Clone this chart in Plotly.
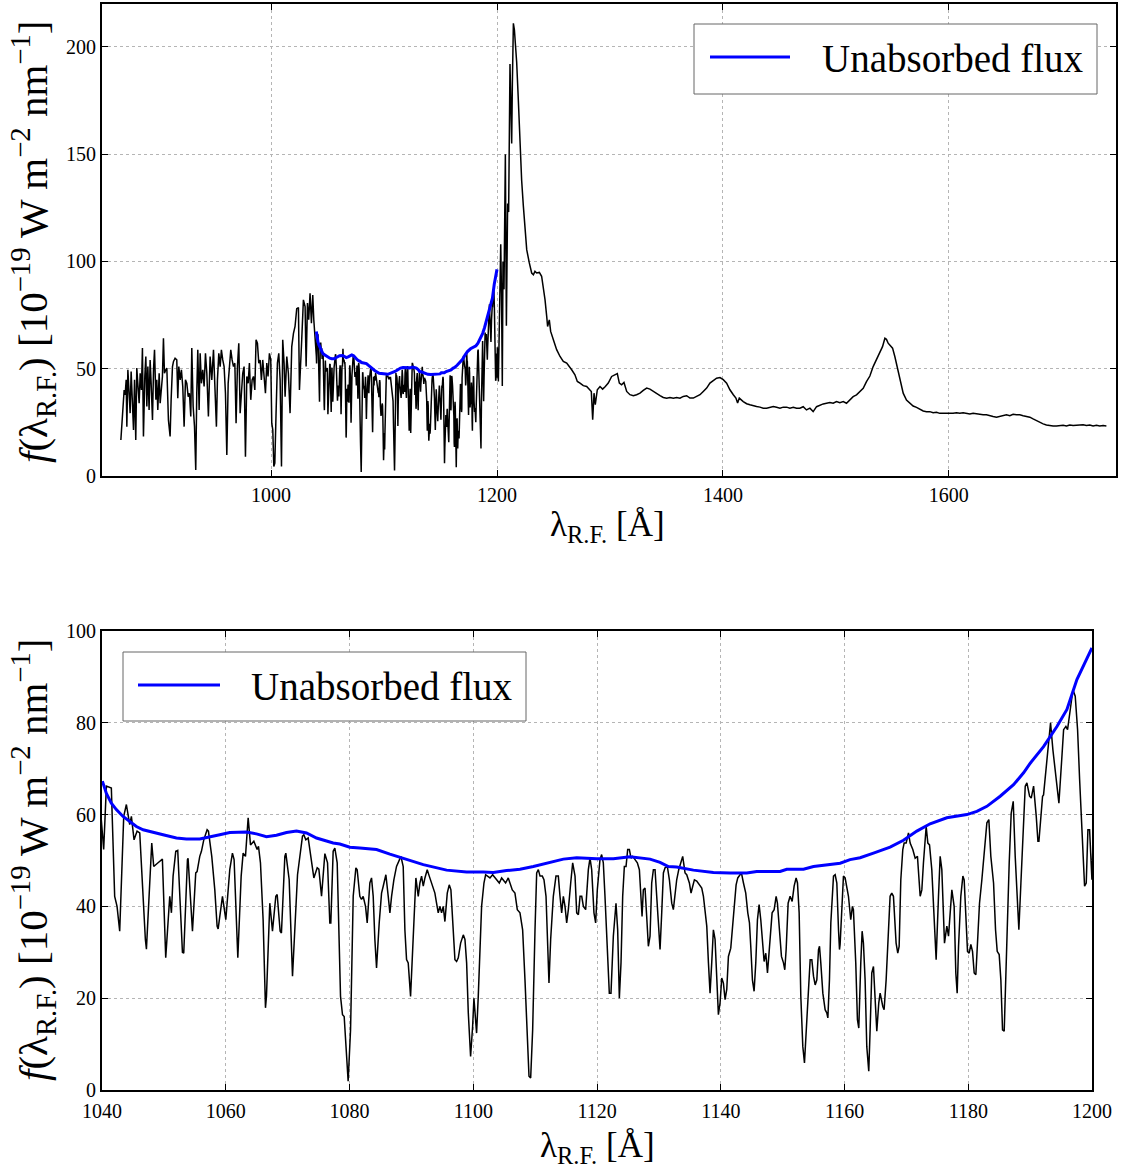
import plotly.graph_objects as go

# ---------------- data ----------------
# Lyman-alpha forest region (blue of 1040 A)
wave_forest = [867.0, 867.8, 868.7, 869.9, 870.8, 871.7, 872.3, 873.2, 874.0, 875.2, 876.1, 877.0, 878.2, 879.1,
               880.2, 881.1, 882.0, 883.2, 884.1, 885.2, 886.1, 887.0, 888.2, 889.1, 890.0, 890.9, 892.0, 892.9,
               893.8, 895.0, 895.9, 896.8, 898.0, 898.8, 899.7, 900.9, 901.8, 903.0, 903.8, 904.7, 905.6, 906.8,
               907.7, 909.1, 910.6, 911.5, 912.7, 913.6, 915.0, 916.5, 917.4, 918.3, 919.5, 920.6, 921.8, 923.0,
               924.2, 925.4, 926.6, 927.7, 928.9, 929.8, 931.0, 932.2, 933.3, 934.2, 935.1, 936.3, 937.2, 938.3,
               939.5, 940.7, 941.9, 943.1, 944.5, 946.0, 947.5, 949.0, 950.4, 951.6, 952.5, 953.7, 954.9, 956.0,
               957.2, 958.4, 959.6, 960.8, 962.0, 963.1, 964.3, 965.5, 966.7, 967.9, 969.0, 970.2, 971.4, 972.6,
               973.8, 974.9, 976.1, 977.3, 978.5, 979.7, 980.8, 982.0, 983.2, 984.4, 985.6, 986.7, 987.9, 989.1,
               990.3, 991.4, 992.6, 993.8, 995.0, 996.2, 997.3, 998.5, 999.7, 1000.6, 1001.5, 1002.4, 1003.3,
               1004.4, 1005.6, 1006.8, 1008.0, 1009.2, 1010.3, 1011.5, 1012.4, 1013.9, 1015.3, 1016.8, 1018.3,
               1019.8, 1021.2, 1022.7, 1024.2, 1025.1, 1026.3, 1027.1, 1028.6, 1030.1, 1031.0, 1032.2, 1033.3,
               1034.5, 1035.7, 1036.9, 1037.8, 1038.6, 1039.8]
flux_forest = [16.8, 24.6, 29.3, 40.1, 37.8, 44.8, 23.0, 49.5, 41.7, 29.3, 48.7, 35.5, 21.5, 44.8,
               16.8, 50.3, 40.1, 33.9, 47.9, 40.1, 59.6, 18.4, 46.4, 55.7, 32.4, 51.0, 30.8, 54.1,
               43.2, 26.1, 49.5, 58.8, 35.5, 44.8, 30.8, 47.9, 33.9, 40.1, 46.4, 64.2, 47.9, 49.5,
               50.3, 26.1, 18.4, 35.5, 51.0, 53.4, 54.9, 54.1, 36.3, 51.0, 44.8, 49.5, 41.7, 23.0,
               44.8, 43.2, 37.0, 38.6, 27.7, 59.6, 32.4, 23.0, 2.8, 38.6, 58.8, 30.8, 57.2, 43.2,
               49.5, 41.7, 57.2, 47.9, 27.7, 55.7, 44.8, 58.8, 40.1, 23.0, 44.8, 57.2, 51.0, 58.8,
               54.1, 51.0, 38.6, 9.8, 43.2, 52.6, 58.8, 54.1, 51.0, 52.6, 24.6, 51.0, 61.9, 29.3,
               40.1, 47.9, 51.0, 9.0, 46.4, 43.2, 52.6, 35.5, 44.8, 46.4, 40.1, 63.5, 61.9, 52.6,
               54.1, 44.8, 54.1, 47.9, 38.6, 52.6, 46.4, 57.2, 54.1, 24.6, 21.5, 4.4, 6.0,
               29.3, 52.6, 57.2, 44.8, 4.4, 63.5, 52.6, 37.0, 55.7, 47.9, 29.3, 60.3,
               66.5, 69.7, 78.0, 78.5, 40.1, 51.0, 63.4, 82.1, 79.0, 51.0, 80.6, 72.8,
               85.2, 71.2, 84.4, 72.8, 68.1, 60.3]

# 1040 - 1200 A, read from the lower (zoomed) panel
wave_zoom = [1040.06, 1040.27, 1040.71, 1041.51, 1042.05, 1042.43, 1042.86, 1043.51, 1043.94, 1044.48, 1044.75,
             1045.18, 1045.67, 1046.10, 1047.01, 1047.18, 1048.04, 1048.36, 1049.06, 1049.76, 1050.30, 1050.95,
             1051.22, 1051.49, 1051.92, 1052.24, 1053.00, 1053.21, 1053.81, 1053.91, 1054.62, 1055.15, 1055.37,
             1055.80, 1056.07, 1056.45, 1056.99, 1057.20, 1057.74, 1058.23, 1058.60, 1058.77, 1059.47, 1060.01,
             1060.65, 1061.08, 1061.35, 1061.95, 1062.49, 1062.81, 1063.19, 1063.62, 1064.00, 1064.54, 1065.07,
             1065.29, 1065.61, 1066.04, 1066.42, 1066.58, 1067.12, 1067.55, 1068.09, 1068.31, 1068.79, 1069.00,
             1069.55, 1069.71, 1070.25, 1070.79, 1071.60, 1071.97, 1072.40, 1072.62, 1072.94, 1073.32, 1073.86,
             1074.24, 1074.78, 1075.05, 1075.48, 1076.02, 1076.45, 1076.82, 1076.98, 1077.36, 1077.63, 1078.01,
             1078.55, 1078.87, 1079.14, 1079.78,
             1080.17, 1080.60, 1081.03, 1081.24, 1081.67, 1081.94, 1082.21, 1082.59, 1082.86, 1083.29, 1083.56,
             1083.83, 1084.10, 1084.37, 1084.80, 1085.18, 1085.45, 1085.88, 1086.26, 1086.53, 1086.80, 1087.17,
             1087.60, 1088.04, 1088.31, 1088.68, 1088.95, 1089.22, 1089.49, 1089.87, 1090.19, 1090.41, 1090.73,
             1091.11, 1091.38, 1091.65, 1091.92, 1092.19, 1092.56, 1092.89, 1093.27, 1093.80, 1094.07, 1094.34,
             1094.61, 1094.88, 1095.15, 1095.42, 1095.80, 1096.12, 1096.39, 1096.77, 1097.04, 1097.31, 1097.58,
             1097.96, 1098.39, 1098.66, 1098.93, 1099.20, 1099.57, 1099.90, 1100.11, 1100.54, 1100.81, 1101.35,
             1101.73, 1102.00, 1102.27, 1102.70, 1103.13, 1103.51, 1103.88, 1104.21, 1104.59, 1104.86, 1105.23,
             1105.66, 1106.04, 1106.31, 1106.74, 1107.12, 1107.55, 1107.98, 1108.36, 1108.74, 1109.01, 1109.28,
             1109.60, 1109.98, 1110.25, 1110.52, 1110.79, 1111.16, 1111.43, 1111.76, 1111.97, 1112.24, 1112.51,
             1112.94, 1113.37, 1113.75, 1114.02, 1114.29, 1114.56, 1114.83, 1115.10, 1115.37, 1115.75, 1116.07,
             1116.45, 1116.72, 1116.99, 1117.26, 1117.53, 1117.80, 1118.17, 1118.60, 1118.87,
             1119.14, 1119.51, 1119.78, 1120.05, 1120.48, 1120.75, 1121.02, 1121.29, 1121.67, 1121.99, 1122.26,
             1122.64, 1123.07, 1123.34, 1123.61, 1123.88, 1124.15, 1124.42, 1124.69, 1124.96, 1125.23, 1125.50,
             1125.77, 1126.15, 1126.52, 1126.85, 1127.12, 1127.28, 1127.49, 1127.76, 1128.03, 1128.30, 1128.57,
             1128.84, 1129.11, 1129.38, 1129.65, 1129.92, 1130.19, 1130.46, 1130.73, 1131.00, 1131.37, 1131.70,
             1132.08, 1132.34, 1132.61, 1132.88, 1133.21, 1133.53, 1133.85, 1134.23, 1134.50, 1134.93, 1135.20,
             1135.47, 1135.74, 1136.12, 1136.55, 1136.93, 1137.20, 1137.47, 1137.74, 1138.01, 1138.27, 1138.54,
             1138.81, 1139.08, 1139.35, 1139.62, 1139.89, 1140.16, 1140.43, 1140.70, 1140.97, 1141.24, 1141.62,
             1141.89, 1142.16, 1142.48, 1142.75, 1143.02, 1143.34, 1143.67, 1144.04, 1144.37, 1144.64, 1144.85,
             1145.12, 1145.39, 1145.66, 1145.93, 1146.20, 1146.47, 1146.74, 1147.01, 1147.28, 1147.55, 1147.76,
             1148.09, 1148.30, 1148.63, 1148.95, 1149.16, 1149.49, 1149.81, 1150.14, 1150.35, 1150.57, 1150.89,
             1151.21, 1151.54, 1151.86, 1152.18, 1152.40, 1152.67, 1152.94, 1153.26, 1153.53, 1153.80, 1154.18,
             1154.45, 1154.72, 1154.99, 1155.26, 1155.53, 1155.80, 1155.96, 1156.17, 1156.50, 1156.87, 1157.14,
             1157.31, 1157.57, 1157.79, 1158.01, 1158.22, 1158.49, 1158.76, 1159.03, 1159.19,
             1159.29, 1159.83, 1160.10, 1160.64, 1161.01, 1161.28, 1161.44, 1161.82, 1162.09, 1162.31, 1162.63,
             1162.85, 1163.06, 1163.33, 1163.60, 1163.92, 1164.14, 1164.41, 1164.68, 1164.95, 1165.22, 1165.54,
             1165.76, 1166.19, 1166.40, 1166.73, 1167.00, 1167.37, 1167.64, 1167.91, 1168.34, 1168.61, 1168.83,
             1169.10, 1169.42, 1169.64, 1169.96, 1170.34, 1170.61, 1171.04, 1171.42, 1171.79, 1172.23, 1172.50,
             1172.76, 1173.03, 1173.20, 1173.47, 1173.74, 1174.11, 1174.38, 1174.65, 1174.81, 1175.19, 1175.46,
             1175.73, 1176.00, 1176.16, 1176.54, 1176.81, 1177.08, 1177.35, 1177.72, 1177.99, 1178.21, 1178.43,
             1178.80, 1179.13, 1179.34, 1179.67, 1179.88, 1180.15, 1180.42, 1180.69, 1180.96, 1181.23, 1181.50,
             1181.82, 1182.20, 1182.63, 1183.01, 1183.33, 1183.65, 1184.09, 1184.41, 1184.68, 1185.00, 1185.27,
             1185.54, 1185.81, 1186.24, 1186.62, 1186.94, 1187.27, 1187.59, 1187.97, 1188.18, 1188.51, 1188.94,
             1189.21, 1189.48, 1189.91, 1190.18, 1190.56, 1190.99, 1191.26, 1191.42, 1191.74, 1192.01, 1192.17,
             1192.71, 1193.09, 1193.30, 1193.68, 1194.11, 1194.65, 1195.14, 1195.41, 1195.78, 1196.05, 1196.49,
             1196.92, 1197.29, 1197.67, 1198.00, 1198.37, 1198.80, 1199.07, 1199.34, 1199.61, 1199.99]
flux_zoom = [56.0, 52.4, 66.2, 65.8, 42.2, 40.0, 34.6, 59.6, 62.2, 57.8, 59.6,
             54.5, 56.4, 56.0, 32.8, 30.7, 53.8, 48.7, 49.5, 50.3, 28.8, 42.2,
             38.6, 46.6, 52.0, 52.2, 30.0, 29.8, 50.2, 50.5, 34.6, 47.3, 47.6,
             50.9, 52.0, 54.5, 56.7, 56.4, 50.9, 43.6, 35.7, 35.1, 42.2, 37.1,
             48.0, 51.6, 50.2, 28.8, 46.6, 51.6, 50.9, 59.3, 53.4, 54.2, 52.4,
             53.1, 49.5, 37.1, 17.9, 20.4, 40.7, 34.6, 42.2, 42.6, 34.6, 34.2,
             50.9, 51.6, 45.8, 24.8, 46.9, 50.9, 55.3, 55.6, 54.5, 54.9, 50.2,
             46.2, 48.4, 48.1, 42.2, 51.5, 49.5, 36.4, 36.4, 52.0, 52.7, 49.5,
             20.4, 16.4, 16.0, 1.9,
             13.1, 42.2, 48.4, 48.0, 42.2, 41.5, 42.2, 40.0, 36.4, 45.1, 46.2,
             42.2, 32.8, 26.6, 36.4, 42.9, 44.4, 46.9, 42.2, 38.6, 42.2, 45.8,
             48.7, 50.2, 50.9, 48.7, 34.9, 28.4, 27.7, 20.4, 30.6, 39.3, 46.2,
             42.2, 45.1, 46.6, 44.4, 46.2, 48.0, 46.6, 45.1, 42.9, 40.7, 38.6,
             40.0, 38.6, 40.0, 36.7, 42.9, 44.7, 43.6, 32.8, 28.4, 28.0, 28.8,
             32.0, 33.8, 32.8, 27.7, 16.8, 7.3, 13.9, 20.0, 12.4, 20.4, 40.0,
             45.1, 46.9, 46.6, 46.2, 46.9, 46.2, 45.5, 45.1, 46.2, 45.8, 45.1,
             46.2, 44.4, 43.6, 42.9, 39.3, 38.6, 34.9, 24.0, 9.5, 3.0, 2.6,
             13.1, 34.9, 47.3, 48.0, 46.6, 46.6, 45.8, 42.2, 32.8, 23.3, 32.8,
             42.2, 46.6, 46.6, 42.2, 38.6, 42.2, 40.0, 36.4, 39.3, 45.1, 49.5,
             46.6, 38.6, 38.2, 42.2, 42.2, 40.0, 39.3, 48.0, 50.5,
             48.0, 38.6, 36.4, 43.6, 50.2, 51.3, 49.5, 42.2, 30.6, 21.1, 21.1,
             33.5, 40.7, 34.9, 20.0, 27.7, 42.2, 48.7, 48.7, 52.4, 52.4, 50.5,
             50.9, 50.2, 49.5, 48.0, 41.5, 37.8, 43.6, 44.0, 37.8, 31.3, 33.5,
             45.1, 48.0, 48.0, 42.2, 34.9, 30.6, 38.6, 47.3, 48.4, 48.7, 45.8,
             40.7, 39.3, 42.9, 45.8, 48.0, 49.5, 50.9, 47.3, 46.9, 45.1, 42.9,
             44.4, 45.8, 45.5, 44.7, 44.0, 42.2, 38.6, 35.7, 27.7, 21.1, 27.7,
             34.9, 32.8, 22.6, 16.4, 19.0, 24.4, 23.3, 19.7, 21.9, 29.1, 30.9,
             34.9, 40.0, 44.7, 46.2, 46.6, 47.3, 45.1, 42.9, 38.6, 36.4, 31.3,
             24.0, 21.5, 27.7, 37.1, 40.4, 37.1, 32.0, 28.0, 29.8, 25.5, 29.1,
             36.4, 38.6, 39.3, 42.2, 40.7, 34.9, 29.1, 27.7, 26.2, 30.6, 40.7,
             42.2, 41.1, 44.4, 46.2, 45.1, 38.6, 20.4, 9.5, 5.9, 13.1, 24.0,
             28.4, 28.4, 24.8, 22.9, 24.0, 30.6, 31.3, 27.7, 21.1, 17.5, 16.8,
             15.7, 24.0, 36.4, 42.2, 46.6, 46.9, 45.1, 34.9, 30.6,
             31.7, 46.6, 46.2, 42.2, 37.1, 40.0, 39.3, 27.7, 15.3, 13.5, 27.7,
             34.6, 32.0, 24.0, 9.5, 4.1, 13.1, 25.5, 26.9, 20.4, 12.8, 19.0,
             21.1, 18.2, 17.5, 24.0, 31.3, 42.2, 42.9, 42.2, 32.0, 29.8, 31.3,
             45.8, 52.4, 53.8, 53.8, 56.0, 53.8, 52.4, 50.5, 50.9, 42.2, 43.6,
             49.5, 55.3, 57.4, 53.8, 53.4, 48.0, 40.7, 32.8, 28.4, 42.2, 50.9,
             48.0, 34.9, 32.0, 35.7, 33.5, 38.6, 43.6, 40.0, 25.5, 21.1, 31.3,
             42.2, 46.6, 45.8, 34.9, 30.2, 29.8, 31.7, 30.2, 25.5, 25.1, 31.3,
             40.7, 45.8, 52.4, 58.2, 58.9, 50.9, 45.1, 34.9, 30.2, 29.5, 24.0,
             13.1, 12.8, 34.9, 49.5, 60.3, 62.9, 50.9, 40.0, 34.9, 45.1, 59.6,
             66.2, 66.9, 64.0, 63.6, 66.2, 59.6, 54.2, 54.2, 60.3, 64.0, 64.3,
             71.2, 76.3, 80.0, 74.1, 68.3, 62.5, 72.7, 78.5, 79.2, 78.5, 82.9,
             87.2, 85.8, 78.5, 67.6, 58.2, 44.4, 45.1, 56.7, 56.7, 45.8]

# Lyman-alpha peak and red side
wave_red = [1200.3, 1201.2, 1202.4, 1203.3, 1204.0, 1204.7, 1205.3, 1206.2, 1207.4, 1208.3, 1209.4, 1210.3,
            1211.5, 1212.4, 1213.0, 1213.6, 1214.5, 1215.4, 1216.3, 1217.4, 1218.9, 1220.4, 1221.8, 1223.3,
            1224.8, 1226.3, 1228.6, 1230.7, 1232.2, 1233.6, 1235.1, 1237.5, 1239.5, 1241.0, 1242.5, 1244.0,
            1244.8, 1246.3, 1247.5, 1249.9, 1252.8, 1255.8, 1258.7, 1261.7, 1264.0, 1266.1, 1269.0, 1271.1,
            1273.5, 1276.4, 1279.4, 1281.7, 1283.5, 1284.7, 1285.9, 1287.0, 1288.8, 1291.2, 1293.5, 1295.9,
            1298.5, 1301.5, 1304.4, 1306.5, 1308.3, 1310.3, 1312.4, 1314.8, 1317.7, 1320.7, 1323.6, 1326.6,
            1329.5, 1332.5, 1335.4, 1338.4, 1341.3, 1344.3, 1347.2, 1350.2, 1353.1, 1356.1, 1359.0, 1362.0,
            1364.9, 1367.9, 1370.8, 1373.8, 1376.7, 1379.7, 1382.6, 1385.6, 1388.5, 1391.5, 1394.4, 1397.4,
            1400.3, 1403.3, 1406.2, 1409.2, 1411.5, 1413.0, 1414.5, 1418.0, 1421.0, 1423.9, 1426.9, 1429.8,
            1432.8, 1435.7, 1438.7, 1441.6, 1444.6, 1447.5, 1450.5, 1453.4, 1456.4, 1459.3, 1462.3, 1465.2,
            1468.1, 1471.1, 1474.0, 1477.0, 1479.9, 1482.9, 1485.8, 1488.8, 1491.7, 1494.7, 1497.6, 1500.6,
            1503.5, 1506.5, 1509.4, 1512.4, 1515.3, 1518.3, 1521.2, 1524.2, 1527.1, 1530.1, 1533.0, 1536.0,
            1538.9, 1541.3, 1543.4, 1544.8, 1546.3, 1547.8, 1550.2, 1552.2, 1554.3, 1556.6, 1559.6, 1562.5,
            1565.5, 1568.4, 1571.4, 1574.3, 1577.3, 1580.2, 1583.2, 1586.1, 1589.1, 1592.0, 1595.0, 1597.9,
            1600.9, 1603.8, 1606.8, 1609.7, 1612.7, 1615.6, 1618.6, 1621.5, 1624.5, 1627.4, 1630.4, 1633.3,
            1636.3, 1639.2, 1642.2, 1645.1, 1648.1, 1651.0, 1654.0, 1656.9, 1659.9, 1662.8, 1665.8, 1668.7,
            1671.7, 1674.6, 1677.6, 1680.5, 1683.5, 1686.4, 1689.4, 1692.3, 1695.3, 1698.2, 1701.2, 1704.1,
            1707.1, 1710.0, 1713.0, 1715.9, 1718.9, 1721.8, 1724.8, 1727.7, 1730.7, 1733.6, 1736.6, 1739.5]
flux_red = [60.0, 44.0, 97.0, 108.0, 85.0, 42.0, 100.0, 87.0, 150.0, 70.0, 127.0, 123.0,
            192.0, 175.0, 155.0, 183.0, 211.0, 208.0, 202.0, 193.0, 175.0, 155.0, 138.0, 126.0,
            115.0, 105.5, 99.3, 94.6, 93.8, 95.4, 94.6, 94.9, 93.1, 88.4, 82.2, 74.4,
            69.7, 72.8, 67.4, 63.5, 58.9, 55.7, 53.4, 52.6, 51.1, 49.5, 47.2, 44.1,
            43.3, 42.1, 41.7, 40.2, 39.4, 26.2, 38.6, 33.2, 40.2, 41.7, 40.5, 41.7,
            43.3, 46.4, 47.2, 47.7, 43.3, 42.5, 43.6, 39.4, 37.9, 37.4, 37.9, 38.6,
            39.9, 41.0, 40.5, 39.4, 38.3, 37.5, 36.6, 36.3, 36.6, 36.3, 36.6, 36.3,
            37.1, 37.4, 36.3, 36.3, 37.1, 37.9, 39.4, 41.0, 43.3, 44.5, 45.6, 45.9,
            44.9, 43.3, 40.2, 37.9, 36.3, 34.0, 36.3, 34.7, 33.7, 33.2, 32.7, 32.4,
            32.1, 31.6, 31.6, 32.1, 32.4, 32.0, 31.6, 32.1, 32.1, 31.6, 32.0, 31.6,
            31.6, 32.3, 30.8, 31.6, 30.0, 32.3, 33.1, 33.6, 33.9, 34.2, 33.9, 34.7,
            34.2, 34.7, 33.9, 35.5, 37.0, 37.8, 39.3, 40.9, 44.0, 46.6, 51.0, 54.4,
            58.0, 60.3, 64.2, 63.7, 61.9, 61.1, 59.6, 55.7, 51.0, 44.8, 38.6, 35.4,
            33.9, 32.6, 32.0, 31.1, 30.3, 30.0, 30.0, 29.5, 29.7, 29.2, 29.2, 28.9,
            29.2, 29.2, 29.5, 29.2, 29.5, 29.2, 28.9, 29.2, 28.9, 28.8, 28.5, 28.5,
            28.0, 27.7, 27.4, 27.7, 28.0, 28.5, 28.1, 28.8, 28.5, 28.5, 28.1, 27.7,
            27.4, 26.6, 25.8, 24.9, 24.3, 23.8, 23.5, 23.3, 23.3, 23.5, 23.6, 23.3,
            23.8, 23.5, 23.6, 23.8, 23.9, 23.6, 23.8, 23.3, 23.6, 23.3, 23.5, 23.3]

# Unabsorbed (continuum) flux
cont_wave = [1040.06, 1040.71, 1041.51, 1042.32, 1043.40, 1044.48, 1045.56, 1046.64, 1048.25, 1049.87, 1052.03,
             1053.64, 1055.80, 1057.41, 1059.03, 1060.65, 1063.35, 1064.97, 1066.58, 1068.20, 1069.82, 1071.43,
             1073.05, 1074.67, 1076.28, 1077.36, 1078.44, 1080.06, 1081.67, 1084.37, 1086.53, 1089.22, 1091.92,
             1095.69, 1098.92, 1101.62, 1103.24, 1105.39, 1107.55, 1109.71, 1111.86, 1114.56, 1116.72, 1119.95,
             1122.64, 1125.34, 1128.57, 1130.19, 1131.54, 1132.88, 1135.58, 1138.81, 1141.51, 1144.20, 1145.82,
             1149.59, 1150.67, 1153.37, 1154.99, 1157.14, 1159.30, 1160.90, 1162.52, 1164.68, 1167.37, 1169.53,
             1171.69, 1173.84, 1176.54, 1179.77, 1181.39, 1183.01, 1185.16, 1187.32, 1188.94, 1190.02, 1192.17,
             1194.33, 1195.95, 1197.56, 1199.99]
cont_flux = [67.3, 64.6, 62.5, 61.1, 59.6, 58.5, 57.4, 56.7, 56.1, 55.6, 54.9,
             54.7, 54.7, 55.1, 55.6, 56.1, 56.2, 55.8, 55.2, 55.5, 56.1, 56.4,
             56.0, 54.9, 54.2, 53.8, 53.6, 52.9, 52.7, 52.4, 51.4, 50.2, 49.1,
             47.9, 47.5, 47.5, 47.4, 47.8, 48.1, 48.7, 49.4, 50.3, 50.6, 50.4,
             50.4, 50.8, 50.3, 49.6, 48.7, 48.6, 47.9, 47.4, 47.3, 47.3, 47.6,
             47.6, 48.1, 48.1, 48.7, 49.1, 49.4, 50.2, 50.6, 51.6, 52.9, 54.4,
             56.4, 58.0, 59.3, 60.0, 60.7, 61.8, 64.0, 66.5, 69.1, 71.2, 74.8,
             79.2, 82.9, 89.4, 96.3]

wave = wave_forest + wave_zoom + wave_red
flux = flux_forest + flux_zoom + flux_red

top_xticks = [1000, 1200, 1400, 1600]
top_yticks = [0, 50, 100, 150, 200]
bot_xticks = [1040, 1060, 1080, 1100, 1120, 1140, 1160, 1180, 1200]
bot_yticks = [0, 20, 40, 60, 80, 100]
legend_label = "Unabsorbed flux"
ytitle = "<i>f</i>(λ<sub>R.F.</sub>) [10<sup>−19</sup> W m<sup>−2</sup> nm<sup>−1</sup>]"
xtitle = "λ<sub>R.F.</sub> [Å]"

# ---------------- figure ----------------
W, H = 1122, 1168
FONT = "Liberation Serif"
fig = go.Figure()

fig.add_trace(go.Scatter(x=wave, y=flux, mode="lines", line=dict(color="black", width=1.5),
                         xaxis="x", yaxis="y", showlegend=False, hoverinfo="skip"))
fig.add_trace(go.Scatter(x=cont_wave, y=cont_flux, mode="lines", line=dict(color="#0000ff", width=3),
                         xaxis="x", yaxis="y", name=legend_label, showlegend=False))
fig.add_trace(go.Scatter(x=wave, y=flux, mode="lines", line=dict(color="black", width=1.5),
                         xaxis="x2", yaxis="y2", showlegend=False, hoverinfo="skip"))
fig.add_trace(go.Scatter(x=cont_wave, y=cont_flux, mode="lines", line=dict(color="#0000ff", width=3),
                         xaxis="x2", yaxis="y2", name=legend_label, showlegend=False))

def px(xp):
    return xp / W

def py(yp):
    return 1 - yp / H

axis_common = dict(showline=True, linecolor="black", linewidth=2, mirror="ticks",
                   ticks="inside", ticklen=6, tickcolor="black", tickwidth=1,
                   showgrid=True, gridcolor="#b5b5b5", griddash="dot", gridwidth=1,
                   zeroline=False, automargin=False,
                   tickfont=dict(family=FONT, size=20, color="black"))

fig.update_layout(
    width=W, height=H, margin=dict(l=0, r=0, t=0, b=0, autoexpand=False),
    paper_bgcolor="white", plot_bgcolor="white",
    xaxis=dict(domain=[px(102), px(1116)], anchor="y", range=[850.3, 1748],
               tickvals=top_xticks, **axis_common),
    yaxis=dict(domain=[py(476), py(4)], anchor="x", range=[0, 220],
               tickvals=top_yticks, **axis_common),
    xaxis2=dict(domain=[px(102), px(1092)], anchor="y2", range=[1040, 1200],
                tickvals=bot_xticks, ticklabelstandoff=2, **axis_common),
    yaxis2=dict(domain=[py(1090), py(631)], anchor="x2", range=[0, 100],
                tickvals=bot_yticks, **axis_common),
)

shapes = []
annotations = []

# manual legends (matplotlib style box)
for (bx0, by0, bx1, by1, lx0, lx1, ly, tx) in [(694, 24, 1097, 94, 710, 790, 57, 820),
                                               (123, 652, 526, 721, 138, 220, 685, 249)]:
    shapes.append(dict(type="rect", xref="paper", yref="paper", x0=px(bx0), x1=px(bx1), y0=py(by1), y1=py(by0),
                       line=dict(color="#666666", width=1), fillcolor="white", layer="above"))
    shapes.append(dict(type="line", xref="paper", yref="paper", x0=px(lx0), x1=px(lx1), y0=py(ly), y1=py(ly),
                       line=dict(color="#0000ff", width=3), layer="above"))
    annotations.append(dict(text=legend_label, xref="paper", yref="paper", x=px(tx), y=py(ly + 1),
                            xanchor="left", yanchor="middle", showarrow=False,
                            font=dict(family=FONT, size=39, color="black")))

# axis titles
for (cx, cy) in [(33, 242), (33, 860)]:
    annotations.append(dict(text=ytitle, xref="paper", yref="paper", x=px(cx), y=py(cy), textangle=-90,
                            xanchor="center", yanchor="middle", showarrow=False,
                            font=dict(family=FONT, size=41, color="black")))
for (cx, cy) in [(607, 526), (597, 1147)]:
    annotations.append(dict(text=xtitle, xref="paper", yref="paper", x=px(cx), y=py(cy),
                            xanchor="center", yanchor="middle", showarrow=False,
                            font=dict(family=FONT, size=35, color="black")))

fig.update_layout(shapes=shapes, annotations=annotations)
fig.write_html("out.html")
